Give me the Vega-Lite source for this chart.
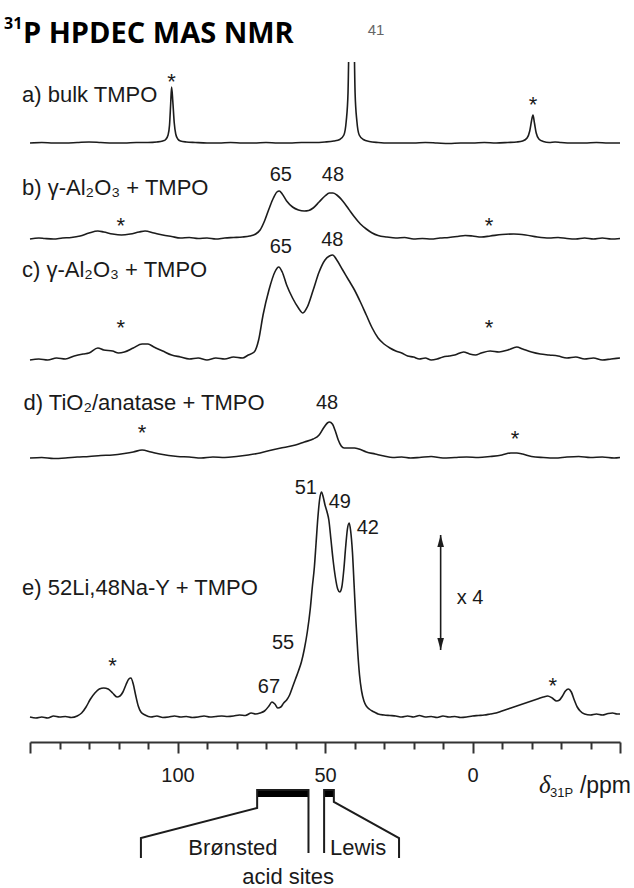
{
  "$schema": "https://vega.github.io/schema/vega-lite/v6.json",
  "autosize": {"type": "pad"},
  "padding": {"left": 4, "top": 16, "right": 0, "bottom": 0},
  "background": "white",
  "config": {"view": {"stroke": null}, "text": {"font": "Liberation Sans", "color": "#1a1a1a"}},
  "datasets": {
    "spectra": [
      {"s":"a","ppm":150,"v":0},{"s":"a","ppm":146,"v":0.5},{"s":"a","ppm":142,"v":0},{"s":"a","ppm":138,"v":0},{"s":"a","ppm":134,"v":0.5},{"s":"a","ppm":130,"v":1},{"s":"a","ppm":126,"v":0.5},{"s":"a","ppm":122,"v":0},{"s":"a","ppm":118,"v":0},{"s":"a","ppm":114,"v":0.5},{"s":"a","ppm":110,"v":0.5},{"s":"a","ppm":107,"v":1},{"s":"a","ppm":105,"v":2},{"s":"a","ppm":104,"v":3.5},{"s":"a","ppm":103.2,"v":8},{"s":"a","ppm":102.7,"v":18},{"s":"a","ppm":102.3,"v":40},{"s":"a","ppm":102,"v":56},{"s":"a","ppm":101.6,"v":42},{"s":"a","ppm":101.1,"v":20},{"s":"a","ppm":100.6,"v":9},{"s":"a","ppm":99.9,"v":4},{"s":"a","ppm":99,"v":2},{"s":"a","ppm":97,"v":1},{"s":"a","ppm":94,"v":0.5},{"s":"a","ppm":90,"v":0},{"s":"a","ppm":86,"v":0},{"s":"a","ppm":82,"v":0.5},{"s":"a","ppm":78,"v":0},{"s":"a","ppm":74,"v":0},{"s":"a","ppm":70,"v":0.5},{"s":"a","ppm":66,"v":0},{"s":"a","ppm":62,"v":0},{"s":"a","ppm":58,"v":0.5},{"s":"a","ppm":54,"v":0.5},{"s":"a","ppm":50,"v":1},{"s":"a","ppm":47,"v":2},{"s":"a","ppm":45,"v":3.5},{"s":"a","ppm":43.6,"v":8},{"s":"a","ppm":42.8,"v":22},{"s":"a","ppm":42.2,"v":50},{"s":"a","ppm":41.7,"v":120},{"s":"a","ppm":40.3,"v":120},{"s":"a","ppm":39.8,"v":50},{"s":"a","ppm":39.2,"v":22},{"s":"a","ppm":38.4,"v":8},{"s":"a","ppm":37,"v":3.5},{"s":"a","ppm":35,"v":1.5},{"s":"a","ppm":32,"v":0.5},{"s":"a","ppm":28,"v":0},{"s":"a","ppm":24,"v":0},{"s":"a","ppm":20,"v":0},{"s":"a","ppm":16,"v":0.5},{"s":"a","ppm":12,"v":0},{"s":"a","ppm":8,"v":-0.5},{"s":"a","ppm":4,"v":0},{"s":"a","ppm":0,"v":0},{"s":"a","ppm":-4,"v":0.5},{"s":"a","ppm":-8,"v":0},{"s":"a","ppm":-12,"v":0.5},{"s":"a","ppm":-15,"v":1},{"s":"a","ppm":-17,"v":2},{"s":"a","ppm":-18.5,"v":5},{"s":"a","ppm":-19.4,"v":12},{"s":"a","ppm":-20,"v":22},{"s":"a","ppm":-20.5,"v":28},{"s":"a","ppm":-21,"v":20},{"s":"a","ppm":-21.6,"v":10},{"s":"a","ppm":-22.5,"v":4},{"s":"a","ppm":-24,"v":1.5},{"s":"a","ppm":-26,"v":0.5},{"s":"a","ppm":-28,"v":1},{"s":"a","ppm":-30,"v":0.5},{"s":"a","ppm":-34,"v":0},{"s":"a","ppm":-38,"v":0},{"s":"a","ppm":-42,"v":0.5},{"s":"a","ppm":-46,"v":0},{"s":"a","ppm":-50,"v":0},

      {"s":"b","ppm":150,"v":0},{"s":"b","ppm":147,"v":1},{"s":"b","ppm":145,"v":0.5},{"s":"b","ppm":142,"v":0},{"s":"b","ppm":139,"v":1},{"s":"b","ppm":136,"v":1.5},{"s":"b","ppm":133,"v":3},{"s":"b","ppm":130,"v":6},{"s":"b","ppm":127,"v":8},{"s":"b","ppm":125,"v":7},{"s":"b","ppm":122,"v":5},{"s":"b","ppm":119,"v":4},{"s":"b","ppm":116,"v":5},{"s":"b","ppm":113,"v":7},{"s":"b","ppm":111,"v":8},{"s":"b","ppm":108,"v":6},{"s":"b","ppm":105,"v":4},{"s":"b","ppm":102,"v":2.5},{"s":"b","ppm":99,"v":1},{"s":"b","ppm":96,"v":1.5},{"s":"b","ppm":93,"v":0.5},{"s":"b","ppm":90,"v":1},{"s":"b","ppm":87,"v":0},{"s":"b","ppm":84,"v":1},{"s":"b","ppm":81,"v":1.5},{"s":"b","ppm":78,"v":2},{"s":"b","ppm":75.5,"v":3},{"s":"b","ppm":73.5,"v":5},{"s":"b","ppm":72,"v":9},{"s":"b","ppm":70.5,"v":18},{"s":"b","ppm":69,"v":30},{"s":"b","ppm":67.5,"v":41},{"s":"b","ppm":66.3,"v":47},{"s":"b","ppm":65.5,"v":48},{"s":"b","ppm":64.5,"v":45},{"s":"b","ppm":63,"v":38},{"s":"b","ppm":61,"v":32},{"s":"b","ppm":59,"v":29},{"s":"b","ppm":57,"v":28},{"s":"b","ppm":55.5,"v":28.5},{"s":"b","ppm":54,"v":31},{"s":"b","ppm":52,"v":37},{"s":"b","ppm":50,"v":43},{"s":"b","ppm":48.5,"v":46},{"s":"b","ppm":47.3,"v":46},{"s":"b","ppm":46,"v":44},{"s":"b","ppm":44,"v":38},{"s":"b","ppm":42,"v":30},{"s":"b","ppm":40,"v":22},{"s":"b","ppm":38,"v":15},{"s":"b","ppm":36,"v":10},{"s":"b","ppm":34,"v":6},{"s":"b","ppm":32,"v":3.5},{"s":"b","ppm":29,"v":2},{"s":"b","ppm":26,"v":1},{"s":"b","ppm":23,"v":1.5},{"s":"b","ppm":20,"v":0},{"s":"b","ppm":17,"v":0.5},{"s":"b","ppm":14,"v":0},{"s":"b","ppm":11,"v":1},{"s":"b","ppm":8,"v":1.5},{"s":"b","ppm":5,"v":2.5},{"s":"b","ppm":2.5,"v":3.5},{"s":"b","ppm":0,"v":3},{"s":"b","ppm":-3,"v":2},{"s":"b","ppm":-6,"v":3},{"s":"b","ppm":-10,"v":4.5},{"s":"b","ppm":-14,"v":5},{"s":"b","ppm":-18,"v":4},{"s":"b","ppm":-22,"v":2},{"s":"b","ppm":-26,"v":1},{"s":"b","ppm":-29,"v":1.5},{"s":"b","ppm":-32,"v":0.5},{"s":"b","ppm":-35,"v":0},{"s":"b","ppm":-38,"v":1},{"s":"b","ppm":-41,"v":0},{"s":"b","ppm":-44,"v":1},{"s":"b","ppm":-47,"v":0},{"s":"b","ppm":-50,"v":0.5},

      {"s":"c","ppm":150,"v":0},{"s":"c","ppm":147,"v":1},{"s":"c","ppm":144,"v":0},{"s":"c","ppm":141,"v":2},{"s":"c","ppm":138,"v":1},{"s":"c","ppm":135,"v":4},{"s":"c","ppm":132,"v":6},{"s":"c","ppm":130,"v":7},{"s":"c","ppm":127,"v":12},{"s":"c","ppm":125,"v":10},{"s":"c","ppm":122,"v":9},{"s":"c","ppm":120,"v":7},{"s":"c","ppm":118,"v":8},{"s":"c","ppm":115,"v":12},{"s":"c","ppm":112,"v":16},{"s":"c","ppm":110,"v":16},{"s":"c","ppm":108,"v":13},{"s":"c","ppm":105,"v":9},{"s":"c","ppm":102,"v":5},{"s":"c","ppm":99,"v":3},{"s":"c","ppm":96,"v":1},{"s":"c","ppm":93,"v":2},{"s":"c","ppm":90,"v":0},{"s":"c","ppm":87,"v":2},{"s":"c","ppm":84,"v":1},{"s":"c","ppm":81,"v":3},{"s":"c","ppm":78,"v":2},{"s":"c","ppm":76,"v":5},{"s":"c","ppm":74,"v":8},{"s":"c","ppm":72.5,"v":20},{"s":"c","ppm":71,"v":45},{"s":"c","ppm":69,"v":70},{"s":"c","ppm":67,"v":88},{"s":"c","ppm":65.7,"v":93},{"s":"c","ppm":64.5,"v":88},{"s":"c","ppm":63,"v":75},{"s":"c","ppm":61,"v":62},{"s":"c","ppm":59,"v":52},{"s":"c","ppm":57.5,"v":47},{"s":"c","ppm":56,"v":53},{"s":"c","ppm":54,"v":70},{"s":"c","ppm":52,"v":88},{"s":"c","ppm":50,"v":100},{"s":"c","ppm":48.5,"v":104},{"s":"c","ppm":47.4,"v":105},{"s":"c","ppm":46,"v":100},{"s":"c","ppm":44,"v":90},{"s":"c","ppm":42,"v":80},{"s":"c","ppm":40,"v":70},{"s":"c","ppm":38,"v":58},{"s":"c","ppm":36,"v":45},{"s":"c","ppm":34,"v":32},{"s":"c","ppm":32,"v":22},{"s":"c","ppm":30,"v":16},{"s":"c","ppm":28,"v":12},{"s":"c","ppm":26,"v":9},{"s":"c","ppm":24,"v":7},{"s":"c","ppm":22,"v":4},{"s":"c","ppm":20,"v":3},{"s":"c","ppm":18,"v":1},{"s":"c","ppm":16,"v":2},{"s":"c","ppm":14,"v":0},{"s":"c","ppm":12,"v":1},{"s":"c","ppm":10,"v":3},{"s":"c","ppm":8,"v":4},{"s":"c","ppm":6,"v":5},{"s":"c","ppm":3,"v":8},{"s":"c","ppm":1,"v":6},{"s":"c","ppm":-1,"v":5},{"s":"c","ppm":-3,"v":7},{"s":"c","ppm":-6,"v":9},{"s":"c","ppm":-9,"v":8},{"s":"c","ppm":-12,"v":10},{"s":"c","ppm":-15,"v":13},{"s":"c","ppm":-17,"v":11},{"s":"c","ppm":-20,"v":8},{"s":"c","ppm":-23,"v":6},{"s":"c","ppm":-26,"v":5},{"s":"c","ppm":-29,"v":4},{"s":"c","ppm":-32,"v":2},{"s":"c","ppm":-35,"v":3},{"s":"c","ppm":-38,"v":1},{"s":"c","ppm":-41,"v":2},{"s":"c","ppm":-44,"v":0},{"s":"c","ppm":-47,"v":1},{"s":"c","ppm":-50,"v":2},

      {"s":"d","ppm":150,"v":0},{"s":"d","ppm":146,"v":0.5},{"s":"d","ppm":142,"v":-0.5},{"s":"d","ppm":138,"v":0},{"s":"d","ppm":134,"v":1},{"s":"d","ppm":130,"v":1.5},{"s":"d","ppm":126,"v":2.5},{"s":"d","ppm":122,"v":3},{"s":"d","ppm":118,"v":4.5},{"s":"d","ppm":115,"v":6},{"s":"d","ppm":112,"v":8},{"s":"d","ppm":109,"v":6},{"s":"d","ppm":106,"v":4},{"s":"d","ppm":103,"v":2.5},{"s":"d","ppm":100,"v":1.5},{"s":"d","ppm":96,"v":1},{"s":"d","ppm":92,"v":0},{"s":"d","ppm":88,"v":1},{"s":"d","ppm":84,"v":0.5},{"s":"d","ppm":80,"v":1.5},{"s":"d","ppm":76,"v":3},{"s":"d","ppm":72,"v":5},{"s":"d","ppm":68,"v":8},{"s":"d","ppm":64,"v":10.5},{"s":"d","ppm":60,"v":13},{"s":"d","ppm":57,"v":16},{"s":"d","ppm":54,"v":19},{"s":"d","ppm":52,"v":23},{"s":"d","ppm":50.5,"v":30},{"s":"d","ppm":49.2,"v":35},{"s":"d","ppm":48.5,"v":36},{"s":"d","ppm":47.5,"v":34},{"s":"d","ppm":46.5,"v":27},{"s":"d","ppm":45.5,"v":18},{"s":"d","ppm":44.5,"v":12},{"s":"d","ppm":43.5,"v":10},{"s":"d","ppm":42,"v":10},{"s":"d","ppm":40,"v":10},{"s":"d","ppm":38.5,"v":9},{"s":"d","ppm":36,"v":6},{"s":"d","ppm":33,"v":4},{"s":"d","ppm":30,"v":2},{"s":"d","ppm":27,"v":0.5},{"s":"d","ppm":24,"v":1},{"s":"d","ppm":21,"v":0},{"s":"d","ppm":18,"v":0.5},{"s":"d","ppm":14,"v":1.5},{"s":"d","ppm":10,"v":0},{"s":"d","ppm":6,"v":0.5},{"s":"d","ppm":2,"v":1},{"s":"d","ppm":-2,"v":0.5},{"s":"d","ppm":-6,"v":1.5},{"s":"d","ppm":-10,"v":3},{"s":"d","ppm":-13,"v":5},{"s":"d","ppm":-15,"v":5},{"s":"d","ppm":-17,"v":4},{"s":"d","ppm":-20,"v":1.5},{"s":"d","ppm":-24,"v":0.5},{"s":"d","ppm":-28,"v":0},{"s":"d","ppm":-32,"v":1},{"s":"d","ppm":-36,"v":1.5},{"s":"d","ppm":-40,"v":0.5},{"s":"d","ppm":-44,"v":1},{"s":"d","ppm":-48,"v":0},{"s":"d","ppm":-50,"v":0.5},

      {"s":"e","ppm":150,"v":0},{"s":"e","ppm":148,"v":-1},{"s":"e","ppm":146,"v":0},{"s":"e","ppm":144,"v":-1},{"s":"e","ppm":142,"v":1},{"s":"e","ppm":140,"v":0},{"s":"e","ppm":138,"v":0.5},{"s":"e","ppm":136,"v":-0.5},{"s":"e","ppm":134,"v":1},{"s":"e","ppm":132.5,"v":4},{"s":"e","ppm":131,"v":10},{"s":"e","ppm":129.5,"v":18},{"s":"e","ppm":128,"v":24},{"s":"e","ppm":126.5,"v":28},{"s":"e","ppm":125,"v":29},{"s":"e","ppm":123.5,"v":28},{"s":"e","ppm":122,"v":24},{"s":"e","ppm":120.5,"v":20},{"s":"e","ppm":119.5,"v":21},{"s":"e","ppm":118.5,"v":25},{"s":"e","ppm":117.5,"v":32},{"s":"e","ppm":116.5,"v":38},{"s":"e","ppm":115.8,"v":39},{"s":"e","ppm":115,"v":33},{"s":"e","ppm":114.2,"v":22},{"s":"e","ppm":113.3,"v":11},{"s":"e","ppm":112.4,"v":5},{"s":"e","ppm":111,"v":2},{"s":"e","ppm":109,"v":0},{"s":"e","ppm":107,"v":1},{"s":"e","ppm":105,"v":-0.5},{"s":"e","ppm":103,"v":0},{"s":"e","ppm":101,"v":1},{"s":"e","ppm":99,"v":0},{"s":"e","ppm":97,"v":0.5},{"s":"e","ppm":95,"v":-0.5},{"s":"e","ppm":93,"v":0},{"s":"e","ppm":91,"v":1},{"s":"e","ppm":89,"v":0},{"s":"e","ppm":87,"v":0.5},{"s":"e","ppm":85,"v":1},{"s":"e","ppm":83,"v":0.5},{"s":"e","ppm":81,"v":1},{"s":"e","ppm":79,"v":2},{"s":"e","ppm":77,"v":1.5},{"s":"e","ppm":75,"v":4},{"s":"e","ppm":73.5,"v":3},{"s":"e","ppm":72,"v":4},{"s":"e","ppm":70.5,"v":6},{"s":"e","ppm":69,"v":11},{"s":"e","ppm":68,"v":15},{"s":"e","ppm":67,"v":13},{"s":"e","ppm":66,"v":9},{"s":"e","ppm":65,"v":10},{"s":"e","ppm":64,"v":14},{"s":"e","ppm":63,"v":17},{"s":"e","ppm":62,"v":22},{"s":"e","ppm":61,"v":30},{"s":"e","ppm":60,"v":38},{"s":"e","ppm":59,"v":46},{"s":"e","ppm":58,"v":55},{"s":"e","ppm":57,"v":68},{"s":"e","ppm":56,"v":85},{"s":"e","ppm":55,"v":108},{"s":"e","ppm":54.3,"v":130},{"s":"e","ppm":53.6,"v":150},{"s":"e","ppm":53,"v":175},{"s":"e","ppm":52.4,"v":200},{"s":"e","ppm":51.8,"v":218},{"s":"e","ppm":51.2,"v":225},{"s":"e","ppm":50.6,"v":220},{"s":"e","ppm":50,"v":212},{"s":"e","ppm":49.3,"v":205},{"s":"e","ppm":48.7,"v":197},{"s":"e","ppm":48,"v":178},{"s":"e","ppm":47.3,"v":158},{"s":"e","ppm":46.5,"v":140},{"s":"e","ppm":45.7,"v":128},{"s":"e","ppm":45,"v":125},{"s":"e","ppm":44.3,"v":130},{"s":"e","ppm":43.6,"v":148},{"s":"e","ppm":43,"v":170},{"s":"e","ppm":42.4,"v":188},{"s":"e","ppm":41.8,"v":194},{"s":"e","ppm":41.3,"v":186},{"s":"e","ppm":40.7,"v":165},{"s":"e","ppm":40.1,"v":130},{"s":"e","ppm":39.5,"v":95},{"s":"e","ppm":38.9,"v":65},{"s":"e","ppm":38.3,"v":42},{"s":"e","ppm":37.6,"v":26},{"s":"e","ppm":36.8,"v":16},{"s":"e","ppm":36,"v":11},{"s":"e","ppm":35,"v":8},{"s":"e","ppm":34,"v":6},{"s":"e","ppm":33,"v":4.5},{"s":"e","ppm":32,"v":3},{"s":"e","ppm":30,"v":2},{"s":"e","ppm":28,"v":1.5},{"s":"e","ppm":26,"v":1},{"s":"e","ppm":24,"v":0},{"s":"e","ppm":22,"v":1},{"s":"e","ppm":20,"v":0},{"s":"e","ppm":18,"v":1.5},{"s":"e","ppm":16,"v":0},{"s":"e","ppm":14,"v":0.5},{"s":"e","ppm":12,"v":-0.5},{"s":"e","ppm":10,"v":1},{"s":"e","ppm":8,"v":0},{"s":"e","ppm":6,"v":0.5},{"s":"e","ppm":4,"v":-0.5},{"s":"e","ppm":2,"v":0},{"s":"e","ppm":0,"v":1},{"s":"e","ppm":-2,"v":1.5},{"s":"e","ppm":-4,"v":2},{"s":"e","ppm":-6,"v":3},{"s":"e","ppm":-8,"v":4},{"s":"e","ppm":-10,"v":6},{"s":"e","ppm":-12,"v":8},{"s":"e","ppm":-14,"v":10},{"s":"e","ppm":-16,"v":12},{"s":"e","ppm":-18,"v":14},{"s":"e","ppm":-20,"v":16},{"s":"e","ppm":-22,"v":18},{"s":"e","ppm":-24,"v":20},{"s":"e","ppm":-25.5,"v":21},{"s":"e","ppm":-27,"v":19},{"s":"e","ppm":-28.5,"v":16},{"s":"e","ppm":-29.5,"v":17},{"s":"e","ppm":-30.5,"v":21},{"s":"e","ppm":-31.5,"v":26},{"s":"e","ppm":-32.5,"v":28},{"s":"e","ppm":-33.5,"v":25},{"s":"e","ppm":-34.5,"v":17},{"s":"e","ppm":-35.5,"v":10},{"s":"e","ppm":-36.5,"v":6},{"s":"e","ppm":-38,"v":3},{"s":"e","ppm":-40,"v":2},{"s":"e","ppm":-42,"v":3},{"s":"e","ppm":-44,"v":2},{"s":"e","ppm":-46,"v":3.5},{"s":"e","ppm":-47.5,"v":4},{"s":"e","ppm":-49,"v":3},{"s":"e","ppm":-50,"v":3}
    ],
    "samples": [
      {"s":"a","ppm":152.7,"v":48,"text":"a) bulk TMPO"},
      {"s":"b","ppm":152.7,"v":51,"text":"b) γ-Al₂O₃ + TMPO"},
      {"s":"c","ppm":152.7,"v":90,"text":"c) γ-Al₂O₃ + TMPO"},
      {"s":"d","ppm":152.2,"v":55,"text":"d) TiO₂/anatase + TMPO"},
      {"s":"e","ppm":152.7,"v":129,"text":"e) 52Li,48Na-Y + TMPO"}
    ],
    "peaks": [
      {"s":"b","ppm":65,"v":64,"text":"65"},{"s":"b","ppm":47.3,"v":64,"text":"48"},
      {"s":"c","ppm":65,"v":113,"text":"65"},{"s":"c","ppm":47.5,"v":120,"text":"48"},
      {"s":"d","ppm":49.3,"v":55,"text":"48"},
      {"s":"e","ppm":56.5,"v":229,"text":"51"},{"s":"e","ppm":45,"v":215,"text":"49"},{"s":"e","ppm":35.5,"v":189,"text":"42"},{"s":"e","ppm":64.2,"v":74,"text":"55"},{"s":"e","ppm":69,"v":30,"text":"67"},{"s":"e","ppm":0.8,"v":119,"text":"x 4"}
    ],
    "stars": [
      {"s":"a","ppm":102,"v":67},{"s":"a","ppm":-20.5,"v":44},
      {"s":"b","ppm":119.2,"v":19},{"s":"b","ppm":-5.6,"v":19},
      {"s":"c","ppm":119.2,"v":38},{"s":"c","ppm":-5.6,"v":38},
      {"s":"d","ppm":112,"v":31},{"s":"d","ppm":-14.4,"v":25},
      {"s":"e","ppm":122,"v":57},{"s":"e","ppm":-27.2,"v":37}
    ],
    "heading": [
      {"part":"sup","ppm":158.8,"v":114,"text":"31"},
      {"part":"main","ppm":152.4,"v":100,"text":"P HPDEC MAS NMR"},
      {"part":"cut","ppm":32.7,"v":113,"text":"41"}
    ],
    "arrow": [{"ppm":10.8,"v":182,"v2":67}],
    "heads": [{"end":"top","ppm":10.8,"v":176},{"end":"bottom","ppm":10.8,"v":73}],
    "bars": [{"site":"Brønsted","p1":73,"p2":55.6,"d1":48,"d2":55},{"site":"Lewis","p1":50.3,"p2":47,"d1":48,"d2":55}],
    "bracket": [
      {"site":"Brønsted","k":1,"ppm":112.4,"d":116},{"site":"Brønsted","k":2,"ppm":112.4,"d":96},{"site":"Brønsted","k":3,"ppm":73,"d":66},{"site":"Brønsted","k":4,"ppm":73,"d":48},{"site":"Brønsted","k":5,"ppm":55.6,"d":48},{"site":"Brønsted","k":6,"ppm":55.6,"d":111},
      {"site":"Lewis","k":1,"ppm":50.3,"d":111},{"site":"Lewis","k":2,"ppm":50.3,"d":48},{"site":"Lewis","k":3,"ppm":47,"d":48},{"site":"Lewis","k":4,"ppm":47,"d":60},{"site":"Lewis","k":5,"ppm":24.9,"d":96},{"site":"Lewis","k":6,"ppm":24.9,"d":116}
    ],
    "sites": [
      {"ppm":81.2,"d":106,"text":"Brønsted"},{"ppm":38.8,"d":106,"text":"Lewis"},{"ppm":62.5,"d":135,"text":"acid sites"}
    ],
    "unit": [
      {"part":"delta","ppm":-22.5,"d":51,"text":"δ"},
      {"part":"sub","ppm":-26.3,"d":55,"text":"31P"},
      {"part":"ppm","ppm":-36.4,"d":51,"text":"/ppm"}
    ]
  },
  "spacing": 0,
  "bounds": "flush",
  "resolve": {"scale": {"y": "independent", "x": "shared"}},
  "vconcat": [
    {
      "width": 590, "height": 88,
      "encoding": {
        "x": {"field": "ppm", "type": "quantitative", "scale": {"domain": [-50, 150], "reverse": true, "nice": false, "zero": false}, "axis": null},
        "y": {"field": "v", "type": "quantitative", "scale": {"domain": [-7, 81], "nice": false, "zero": false}, "axis": null}
      },
      "layer": [
        {"data": {"name": "spectra"}, "transform": [{"filter": "datum.s === 'a'"}], "mark": {"type": "line", "clip": true, "color": "#1c1c1c", "strokeWidth": 1.6, "interpolate": "monotone"}},
        {"data": {"name": "samples"}, "transform": [{"filter": "datum.s === 'a'"}], "mark": {"type": "text", "align": "left", "baseline": "middle", "fontSize": 22}, "encoding": {"text": {"field": "text"}}},
        {"data": {"name": "stars"}, "transform": [{"filter": "datum.s === 'a'"}], "mark": {"type": "text", "text": "*", "align": "center", "baseline": "middle", "dy": 6, "fontSize": 22}},
        {"data": {"name": "heading"}, "transform": [{"filter": "datum.part === 'main'"}], "mark": {"type": "text", "align": "left", "baseline": "alphabetic", "font": "Open Sans", "fontWeight": "bold", "fontSize": 29, "color": "#000"}, "encoding": {"text": {"field": "text"}}},
        {"data": {"name": "heading"}, "transform": [{"filter": "datum.part === 'sup'"}], "mark": {"type": "text", "align": "left", "baseline": "alphabetic", "font": "Open Sans", "fontWeight": "bold", "fontSize": 16, "color": "#000"}, "encoding": {"text": {"field": "text"}}},
        {"data": {"name": "heading"}, "transform": [{"filter": "datum.part === 'cut'"}], "mark": {"type": "text", "align": "center", "baseline": "middle", "fontSize": 15, "color": "#666"}, "encoding": {"text": {"field": "text"}}}
      ]
    },
    {
      "width": 590, "height": 95,
      "encoding": {
        "x": {"field": "ppm", "type": "quantitative", "scale": {"domain": [-50, 150], "reverse": true, "nice": false, "zero": false}, "axis": null},
        "y": {"field": "v", "type": "quantitative", "scale": {"domain": [-6, 89], "nice": false, "zero": false}, "axis": null}
      },
      "layer": [
        {"data": {"name": "spectra"}, "transform": [{"filter": "datum.s === 'b'"}], "mark": {"type": "line", "color": "#1c1c1c", "strokeWidth": 1.6, "interpolate": "monotone"}},
        {"data": {"name": "samples"}, "transform": [{"filter": "datum.s === 'b'"}], "mark": {"type": "text", "align": "left", "baseline": "middle", "fontSize": 22}, "encoding": {"text": {"field": "text"}}},
        {"data": {"name": "stars"}, "transform": [{"filter": "datum.s === 'b'"}], "mark": {"type": "text", "text": "*", "align": "center", "baseline": "middle", "dy": 6, "fontSize": 22}},
        {"data": {"name": "peaks"}, "transform": [{"filter": "datum.s === 'b'"}], "mark": {"type": "text", "align": "center", "baseline": "middle", "fontSize": 20}, "encoding": {"text": {"field": "text"}}}
      ]
    },
    {
      "width": 590, "height": 120,
      "encoding": {
        "x": {"field": "ppm", "type": "quantitative", "scale": {"domain": [-50, 150], "reverse": true, "nice": false, "zero": false}, "axis": null},
        "y": {"field": "v", "type": "quantitative", "scale": {"domain": [-5, 115], "nice": false, "zero": false}, "axis": null}
      },
      "layer": [
        {"data": {"name": "spectra"}, "transform": [{"filter": "datum.s === 'c'"}], "mark": {"type": "line", "color": "#1c1c1c", "strokeWidth": 1.6, "interpolate": "monotone"}},
        {"data": {"name": "samples"}, "transform": [{"filter": "datum.s === 'c'"}], "mark": {"type": "text", "align": "left", "baseline": "middle", "fontSize": 22}, "encoding": {"text": {"field": "text"}}},
        {"data": {"name": "stars"}, "transform": [{"filter": "datum.s === 'c'"}], "mark": {"type": "text", "text": "*", "align": "center", "baseline": "middle", "dy": 6, "fontSize": 22}},
        {"data": {"name": "peaks"}, "transform": [{"filter": "datum.s === 'c'"}], "mark": {"type": "text", "align": "center", "baseline": "middle", "fontSize": 20}, "encoding": {"text": {"field": "text"}}}
      ]
    },
    {
      "width": 590, "height": 100,
      "encoding": {
        "x": {"field": "ppm", "type": "quantitative", "scale": {"domain": [-50, 150], "reverse": true, "nice": false, "zero": false}, "axis": null},
        "y": {"field": "v", "type": "quantitative", "scale": {"domain": [-7, 93], "nice": false, "zero": false}, "axis": null}
      },
      "layer": [
        {"data": {"name": "spectra"}, "transform": [{"filter": "datum.s === 'd'"}], "mark": {"type": "line", "color": "#1c1c1c", "strokeWidth": 1.6, "interpolate": "monotone"}},
        {"data": {"name": "samples"}, "transform": [{"filter": "datum.s === 'd'"}], "mark": {"type": "text", "align": "left", "baseline": "middle", "fontSize": 22}, "encoding": {"text": {"field": "text"}}},
        {"data": {"name": "stars"}, "transform": [{"filter": "datum.s === 'd'"}], "mark": {"type": "text", "text": "*", "align": "center", "baseline": "middle", "dy": 6, "fontSize": 22}},
        {"data": {"name": "peaks"}, "transform": [{"filter": "datum.s === 'd'"}], "mark": {"type": "text", "align": "center", "baseline": "middle", "fontSize": 20}, "encoding": {"text": {"field": "text"}}}
      ]
    },
    {
      "width": 590, "height": 277,
      "encoding": {
        "x": {"field": "ppm", "type": "quantitative", "scale": {"domain": [-50, 150], "reverse": true, "nice": false, "zero": false},
          "axis": {"title": null, "grid": false, "values": [150,140,130,120,110,100,90,80,70,60,50,40,30,20,10,0,-10,-20,-30,-40,-50],
            "labelExpr": "datum.value === 100 || datum.value === 50 || datum.value === 0 ? datum.label : ''",
            "domainColor": "#333", "domainWidth": 2, "tickColor": "#333", "tickWidth": 2,
            "tickSize": {"condition": {"test": "datum.value % 50 === 0", "value": 11}, "value": 7},
            "labelFont": "Liberation Sans", "labelFontSize": 20, "labelColor": "#1a1a1a", "labelPadding": 12, "labelFlush": false, "labelOverlap": false}},
        "y": {"field": "v", "type": "quantitative", "scale": {"domain": [-25, 252], "nice": false, "zero": false}, "axis": null}
      },
      "layer": [
        {"data": {"name": "spectra"}, "transform": [{"filter": "datum.s === 'e'"}], "mark": {"type": "line", "color": "#1c1c1c", "strokeWidth": 1.6, "interpolate": "monotone"}},
        {"data": {"name": "samples"}, "transform": [{"filter": "datum.s === 'e'"}], "mark": {"type": "text", "align": "left", "baseline": "middle", "fontSize": 22}, "encoding": {"text": {"field": "text"}}},
        {"data": {"name": "stars"}, "transform": [{"filter": "datum.s === 'e'"}], "mark": {"type": "text", "text": "*", "align": "center", "baseline": "middle", "dy": 6, "fontSize": 22}},
        {"data": {"name": "peaks"}, "transform": [{"filter": "datum.s === 'e'"}], "mark": {"type": "text", "align": "center", "baseline": "middle", "fontSize": 20}, "encoding": {"text": {"field": "text"}}},
        {"data": {"name": "arrow"}, "mark": {"type": "rule", "color": "#1c1c1c", "strokeWidth": 1.6}, "encoding": {"y2": {"field": "v2"}}},
        {"data": {"name": "heads"}, "transform": [{"filter": "datum.end === 'top'"}], "mark": {"type": "point", "shape": "M0,-1L0.55,1L-0.55,1Z", "size": 144, "filled": true, "color": "#1c1c1c", "opacity": 1}},
        {"data": {"name": "heads"}, "transform": [{"filter": "datum.end === 'bottom'"}], "mark": {"type": "point", "shape": "M0,1L0.55,-1L-0.55,-1Z", "size": 144, "filled": true, "color": "#1c1c1c", "opacity": 1}}
      ]
    },
    {
      "width": 590, "height": 146,
      "encoding": {
        "x": {"field": "ppm", "type": "quantitative", "scale": {"domain": [-50, 150], "reverse": true, "nice": false, "zero": false}, "axis": null},
        "y": {"field": "d", "type": "quantitative", "scale": {"domain": [0, 146], "reverse": true, "nice": false, "zero": false}, "axis": null}
      },
      "layer": [
        {"data": {"name": "bars"}, "mark": {"type": "rect", "color": "#000"}, "encoding": {"x": {"field": "p1", "type": "quantitative"}, "x2": {"field": "p2"}, "y": {"field": "d1", "type": "quantitative"}, "y2": {"field": "d2"}}},
        {"data": {"name": "bracket"}, "mark": {"type": "line", "color": "#1c1c1c", "strokeWidth": 2}, "encoding": {"detail": {"field": "site"}, "order": {"field": "k", "type": "quantitative"}}},
        {"data": {"name": "sites"}, "mark": {"type": "text", "align": "center", "baseline": "middle", "fontSize": 22}, "encoding": {"text": {"field": "text"}}},
        {"data": {"name": "unit"}, "transform": [{"filter": "datum.part === 'delta'"}], "mark": {"type": "text", "align": "left", "baseline": "alphabetic", "font": "Liberation Serif", "fontStyle": "italic", "fontSize": 25}, "encoding": {"text": {"field": "text"}}},
        {"data": {"name": "unit"}, "transform": [{"filter": "datum.part === 'sub'"}], "mark": {"type": "text", "align": "left", "baseline": "alphabetic", "fontSize": 13}, "encoding": {"text": {"field": "text"}}},
        {"data": {"name": "unit"}, "transform": [{"filter": "datum.part === 'ppm'"}], "mark": {"type": "text", "align": "left", "baseline": "alphabetic", "fontSize": 23}, "encoding": {"text": {"field": "text"}}}
      ]
    }
  ]
}
